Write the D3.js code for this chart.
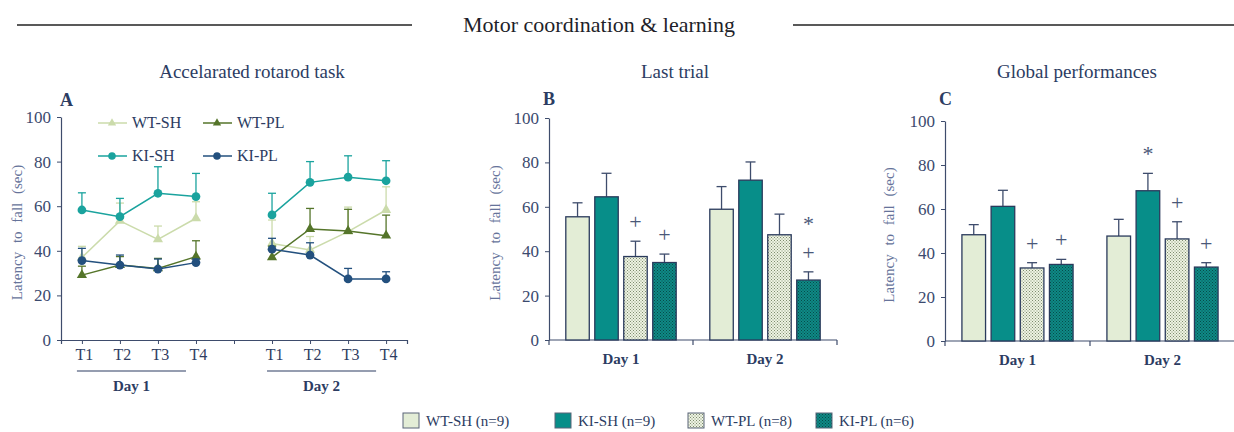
<!DOCTYPE html>
<html>
<head>
<meta charset="utf-8">
<script src="https://cdn.jsdelivr.net/npm/d3@7"></script>
<style>
  body { margin: 0; background: #fff; }
  svg { display: block; font-family: "Liberation Serif", "DejaVu Serif", serif; }
</style>
</head>
<body>
<svg width="1234" height="432"></svg>
<script>
"use strict";

// ---- data ----
const trials = ["T1", "T2", "T3", "T4"];
const days = ["Day 1", "Day 2"];
const groups = ["WT-SH", "KI-SH", "WT-PL", "KI-PL"];
const groupN = [9, 9, 8, 6];

// rotarod, 4 trials of day 1 then 4 trials of day 2
const wtshMean = [37, 53.4, 45.1, 54.6, 43.3, 40.4, 48.6, 58.3];
const wtshSem  = [5, 8, 6, 7.4, 10.5, 6, 11, 10.4];
const wtplMean = [29.1, 33.6, 32.1, 37.4, 37.1, 49.8, 48.9, 46.8];
const wtplSem  = [4, 3.8, 4.5, 7.1, 5, 9.2, 9.7, 9.2];
const kishMean = [58.3, 55.3, 65.8, 64.3, 56.1, 70.7, 73, 71.4];
const kishSem  = [7.7, 8.2, 11.9, 10.4, 9.7, 9.3, 9.6, 9];
const kiplMean = [35.6, 33.6, 31.8, 34.7, 40.7, 38.1, 27.4, 27.4];
const kiplSem  = [5.5, 4.5, 4.5, 1.6, 4.9, 5.5, 4.7, 3.2];

// last trial, [day1, day2] per group (order of groups)
const lastMean = [[55.5, 58.9], [64.5, 72], [37.6, 47.4], [34.9, 27]];
const lastSem  = [[6.3, 10.2], [10.6, 8.2], [6.9, 9.3], [3.8, 3.7]];
const lastMarks = [["", ""], ["", ""], ["+", ""], ["+", "+*"]];

// global performances
const globMean = [[48.3, 47.7], [61.2, 68.3], [33.2, 46.4], [34.8, 33.6]];
const globSem  = [[4.6, 7.6], [7.3, 7.9], [2.4, 7.8], [2.3, 2]];
const globMarks = [["", ""], ["", "*"], ["+", "+"], ["+", "+"]];

const yTicks = [0, 20, 40, 60, 80, 100];

// ---- styles ----
const navy = "#2c3c62", axisCol = "#3e4c6c", labelCol = "#66739a";
const barFill = { "WT-SH": "#e3edd6", "KI-SH": "#078e89", "WT-PL": "url(#dotLight)", "KI-PL": "url(#dotDark)" };
const lineCol = { "WT-SH": "#cbdbab", "WT-PL": "#55752a", "KI-SH": "#1aa39e", "KI-PL": "#23507e" };

const svg = d3.select("svg");

const defs = svg.append("defs");
function dotPattern(id, bg, dot) {
  const p = defs.append("pattern").attr("id", id).attr("patternUnits", "userSpaceOnUse")
    .attr("width", 3).attr("height", 3);
  p.append("rect").attr("width", 3).attr("height", 3).attr("fill", bg);
  p.append("rect").attr("x", 0).attr("y", 0).attr("width", 1).attr("height", 1).attr("fill", dot);
  p.append("rect").attr("x", 1.5).attr("y", 1.5).attr("width", 1).attr("height", 1).attr("fill", dot);
}
dotPattern("dotLight", "#eef3e2", "#7d8c6e");
dotPattern("dotDark", "#0e8a86", "#074b4a");

// ---- titles ----
svg.append("line").attr("x1", 17).attr("x2", 412).attr("y1", 25).attr("y2", 25).attr("stroke", "#222").attr("stroke-width", 1.3);
svg.append("line").attr("x1", 793).attr("x2", 1234).attr("y1", 25).attr("y2", 25).attr("stroke", "#222").attr("stroke-width", 1.3);
svg.append("text").attr("x", 599).attr("y", 32).attr("text-anchor", "middle")
  .attr("font-size", 22).attr("fill", "#1f1f2a").text("Motor coordination & learning");

const panelTitles = [["Accelarated rotarod task", 252], ["Last trial", 675], ["Global performances", 1077]];
panelTitles.forEach(([t, x]) => {
  svg.append("text").attr("x", x).attr("y", 78).attr("text-anchor", "middle")
    .attr("font-size", 19).attr("fill", navy).text(t);
});

function yAxis(g, y, x0, labelX) {
  g.append("g").attr("transform", `translate(${x0},0)`)
    .call(d3.axisLeft(y).tickValues(yTicks).tickSize(4).tickPadding(6).tickSizeOuter(0))
    .call(a => a.select(".domain").attr("stroke", axisCol).attr("stroke-width", 1.2))
    .call(a => a.selectAll(".tick line").attr("stroke", axisCol))
    .call(a => a.selectAll(".tick text").attr("fill", "#3b4a6e").attr("font-size", 17)
      .attr("font-family", "Liberation Serif"));
  const mid = (y(0) + y(100)) / 2 + 4;
  g.append("text").attr("transform", `translate(${labelX},${mid}) rotate(-90)`)
    .attr("text-anchor", "middle").attr("font-size", 15).attr("fill", labelCol)
    .attr("word-spacing", 5).text("Latency to fall (sec)");
}

// ---- panel A ----
(function panelA() {
  const g = svg.append("g");
  const keys = trials.map(t => "d1" + t).concat(["gap"], trials.map(t => "d2" + t));
  const x = d3.scalePoint().domain(keys).range([61, 407]).padding(0.55);
  const y = d3.scaleLinear().domain([0, 100]).range([340, 117]);
  const ptKeys = keys.filter(k => k !== "gap");

  yAxis(g, y, 61, 22);
  g.append("text").attr("x", 60).attr("y", 106).attr("font-size", 18).attr("font-weight", "bold")
    .attr("fill", navy).text("A");

  g.append("g").attr("transform", "translate(0,340)")
    .call(d3.axisBottom(x).tickSize(4).tickSizeOuter(4).tickPadding(5).tickFormat(k => k === "gap" ? "" : k.slice(2)))
    .call(a => a.select(".domain").attr("stroke", axisCol).attr("stroke-width", 1.2))
    .call(a => a.selectAll(".tick line").attr("stroke", axisCol))
    .call(a => a.selectAll(".tick text").attr("fill", "#2f3d62").attr("font-size", 16)
      .attr("font-family", "Liberation Serif").attr("dx", 2));

  // day brackets
  [["d1", "Day 1"], ["d2", "Day 2"]].forEach(([p, lab]) => {
    const xa = x(p + "T1") - 5, xb = x(p + "T4") - 10;
    g.append("line").attr("x1", xa).attr("x2", xb).attr("y1", 371).attr("y2", 371)
      .attr("stroke", navy).attr("stroke-width", 1.2);
    g.append("text").attr("x", (xa + xb) / 2).attr("y", 391).attr("text-anchor", "middle")
      .attr("font-size", 15).attr("font-weight", "bold").attr("fill", navy).text(lab);
  });

  const series = [
    { name: "WT-SH", mean: wtshMean, sem: wtshSem, shape: d3.symbolTriangle },
    { name: "WT-PL", mean: wtplMean, sem: wtplSem, shape: d3.symbolTriangle },
    { name: "KI-PL", mean: kiplMean, sem: kiplSem, shape: d3.symbolCircle },
    { name: "KI-SH", mean: kishMean, sem: kishSem, shape: d3.symbolCircle }
  ];
  const line = d3.line().x(d => x(d.k)).y(d => y(d.v));

  series.forEach(s => {
    const c = lineCol[s.name];
    const pts = ptKeys.map((k, i) => ({ k, v: s.mean[i], e: s.sem[i] }));
    const sg = g.append("g");
    // error bars (upper only)
    pts.forEach(d => {
      sg.append("line").attr("x1", x(d.k)).attr("x2", x(d.k)).attr("y1", y(d.v)).attr("y2", y(d.v + d.e))
        .attr("stroke", c).attr("stroke-width", 1.3);
      sg.append("line").attr("x1", x(d.k) - 4).attr("x2", x(d.k) + 4).attr("y1", y(d.v + d.e)).attr("y2", y(d.v + d.e))
        .attr("stroke", c).attr("stroke-width", 1.3);
    });
    sg.append("path").datum(pts.slice(0, 4)).attr("d", line).attr("fill", "none").attr("stroke", c).attr("stroke-width", 1.5);
    sg.append("path").datum(pts.slice(4)).attr("d", line).attr("fill", "none").attr("stroke", c).attr("stroke-width", 1.5);
    const sym = d3.symbol().type(s.shape).size(s.shape === d3.symbolCircle ? 60 : 45);
    sg.selectAll("path.m").data(pts).join("path").attr("class", "m")
      .attr("transform", d => `translate(${x(d.k)},${y(d.v)})`).attr("d", sym).attr("fill", c);
  });

  // in-plot legend
  const leg = [["WT-SH", 98, 123, d3.symbolTriangle], ["WT-PL", 203, 123, d3.symbolTriangle],
               ["KI-SH", 98, 156, d3.symbolCircle], ["KI-PL", 203, 156, d3.symbolCircle]];
  leg.forEach(([n, lx, ly, shape]) => {
    const c = lineCol[n];
    g.append("line").attr("x1", lx).attr("x2", lx + 29).attr("y1", ly).attr("y2", ly).attr("stroke", c).attr("stroke-width", 1.5);
    g.append("path").attr("transform", `translate(${lx + 14},${ly})`)
      .attr("d", d3.symbol().type(shape).size(shape === d3.symbolCircle ? 45 : 30)).attr("fill", c);
    g.append("text").attr("x", lx + 34).attr("y", ly + 5).attr("font-size", 16).attr("fill", navy).text(n);
  });
})();

// ---- bar panels ----
function barPanel(opt) {
  const g = svg.append("g");
  const x0 = d3.scaleBand().domain(days).range(opt.xr).padding(0);
  const x1 = d3.scaleBand().domain(groups).range([0, x0.bandwidth()]).paddingInner(0.19).paddingOuter(0.58);
  const y = d3.scaleLinear().domain([0, 100]).range(opt.yr);

  yAxis(g, y, opt.xr[0], opt.labelX);
  g.append("text").attr("x", opt.xr[0] - 6).attr("y", 105).attr("font-size", 18).attr("font-weight", "bold")
    .attr("fill", navy).text(opt.letter);

  // x axis with ticks on band edges
  const base = y(0);
  g.append("line").attr("x1", opt.xr[0]).attr("x2", opt.xr[1]).attr("y1", base).attr("y2", base)
    .attr("stroke", axisCol).attr("stroke-width", 1.2);
  days.map(d => x0(d)).concat([opt.xr[1]]).forEach(xx => {
    g.append("line").attr("x1", xx).attr("x2", xx).attr("y1", base).attr("y2", base + 5)
      .attr("stroke", axisCol).attr("stroke-width", 1.2);
  });
  days.forEach(d => {
    g.append("text").attr("x", x0(d) + x0.bandwidth() / 2).attr("y", base + 24).attr("text-anchor", "middle")
      .attr("font-size", 15).attr("font-weight", "bold").attr("fill", navy).text(d);
  });

  groups.forEach((grp, gi) => {
    days.forEach((d, di) => {
      const v = opt.mean[gi][di], e = opt.sem[gi][di];
      const bx = x0(d) + x1(grp), bw = x1.bandwidth(), cx = bx + bw / 2;
      // error bar above
      g.append("line").attr("x1", cx).attr("x2", cx).attr("y1", y(v)).attr("y2", y(v + e))
        .attr("stroke", axisCol).attr("stroke-width", 1.3);
      g.append("line").attr("x1", cx - 5).attr("x2", cx + 5).attr("y1", y(v + e)).attr("y2", y(v + e))
        .attr("stroke", axisCol).attr("stroke-width", 1.3);
      g.append("rect").attr("x", bx).attr("y", y(v)).attr("width", bw).attr("height", y(0) - y(v))
        .attr("fill", barFill[grp]).attr("stroke", "#2a3a5c").attr("stroke-width", 1.3);
      const marks = opt.marks[gi][di];
      [...marks].forEach((m, mi) => {
        g.append("text").attr("x", cx).attr("y", y(v + e) - 12 - mi * 29).attr("text-anchor", "middle")
          .attr("font-size", 22).attr("fill", "#4a5878").text(m);
      });
    });
  });
}

barPanel({ letter: "B", xr: [549, 837], yr: [340, 118], labelX: 500, mean: lastMean, sem: lastSem, marks: lastMarks });
barPanel({ letter: "C", xr: [945, 1235], yr: [341, 121], labelX: 894, mean: globMean, sem: globSem, marks: globMarks });

// ---- bottom legend ----
const legX = [403, 555, 688, 816];
groups.forEach((grp, i) => {
  svg.append("rect").attr("x", legX[i]).attr("y", 413).attr("width", 16).attr("height", 15)
    .attr("fill", barFill[grp]).attr("stroke", "#5a6478").attr("stroke-width", 1);
  svg.append("text").attr("x", legX[i] + 23).attr("y", 426).attr("font-size", 15).attr("fill", "#2c3c62")
    .text(`${grp} (n=${groupN[i]})`);
});
</script>
</body>
</html>
